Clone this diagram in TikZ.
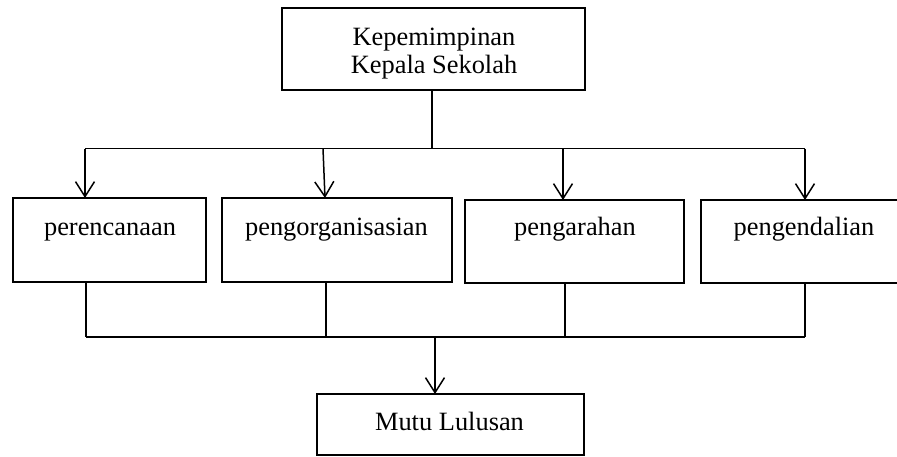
\documentclass[tikz,border=0pt]{standalone}
\usepackage{fontspec}
\setmainfont{Liberation Serif}
\usetikzlibrary{arrows.meta}
\begin{document}
\begin{tikzpicture}[x=1pt,y=-1pt,
  line width=1.5pt,
  boxstyle/.style={draw,rectangle,inner sep=0pt,outer sep=0pt},
  lbl/.style={inner sep=0pt,anchor=base,font=\fontsize{26.4}{28}\selectfont},
  arr/.style={-{Straight Barb[length=15pt,width=19pt,line width=1.5pt]}}]
\useasboundingbox (0,0) rectangle (897,456);
% boxes
\node[boxstyle,minimum width=303pt,minimum height=82pt] (top) at (433.5,49) {};
\node[boxstyle,minimum width=193pt,minimum height=84pt] (p1) at (109.5,240) {};
\node[boxstyle,minimum width=230pt,minimum height=84pt] (p2) at (337,240) {};
\node[boxstyle,minimum width=219pt,minimum height=83pt] (p3) at (574.5,241.5) {};
\node[boxstyle,minimum width=207pt,minimum height=83pt] (p4) at (804.5,241.5) {};
\node[boxstyle,minimum width=267pt,minimum height=61pt] (mutu) at (450.5,424.5) {};
% labels
\node[lbl] (t1) at (434,45) {Kepemimpinan};
\node[lbl] (t2) at (434,73) {Kepala Sekolah};
\node[lbl] (l1) at (110,235) {perencanaan};
\node[lbl] (l2) at (336.5,235) {pengorganisasian};
\node[lbl] (l3) at (575,235) {pengarahan};
\node[lbl] (l4) at (804,235) {pengendalian};
\node[lbl] (l5) at (449.5,430) {Mutu Lulusan};
% top distribution
\coordinate (jt) at (432,148.5);
\coordinate (a1) at (85,148.5);
\coordinate (a2) at (323,148.5);
\coordinate (a3) at (563,148.5);
\coordinate (a4) at (805,148.5);
\draw (top.south -| jt) -- (jt);
\draw (a1) -- (a4);
\draw[arr] (a1) -- (a1 |- p1.north);
\draw[arr] (a2) -- (325,0 |- p2.north);
\draw[arr] (a3) -- (a3 |- p3.north);
\draw[arr] (a4) -- (a4 |- p4.north);
% bottom collection
\coordinate (b1) at (86,337);
\coordinate (b2) at (326,337);
\coordinate (b3) at (565,337);
\coordinate (b4) at (805,337);
\coordinate (jb) at (435,337);
\draw (b1 |- p1.south) -- (b1);
\draw (b2 |- p2.south) -- (b2);
\draw (b3 |- p3.south) -- (b3);
\draw (b4 |- p4.south) -- (b4);
\draw (b1) -- (b4);
\draw[arr] (jb) -- (jb |- mutu.north);
\end{tikzpicture}
\end{document}
